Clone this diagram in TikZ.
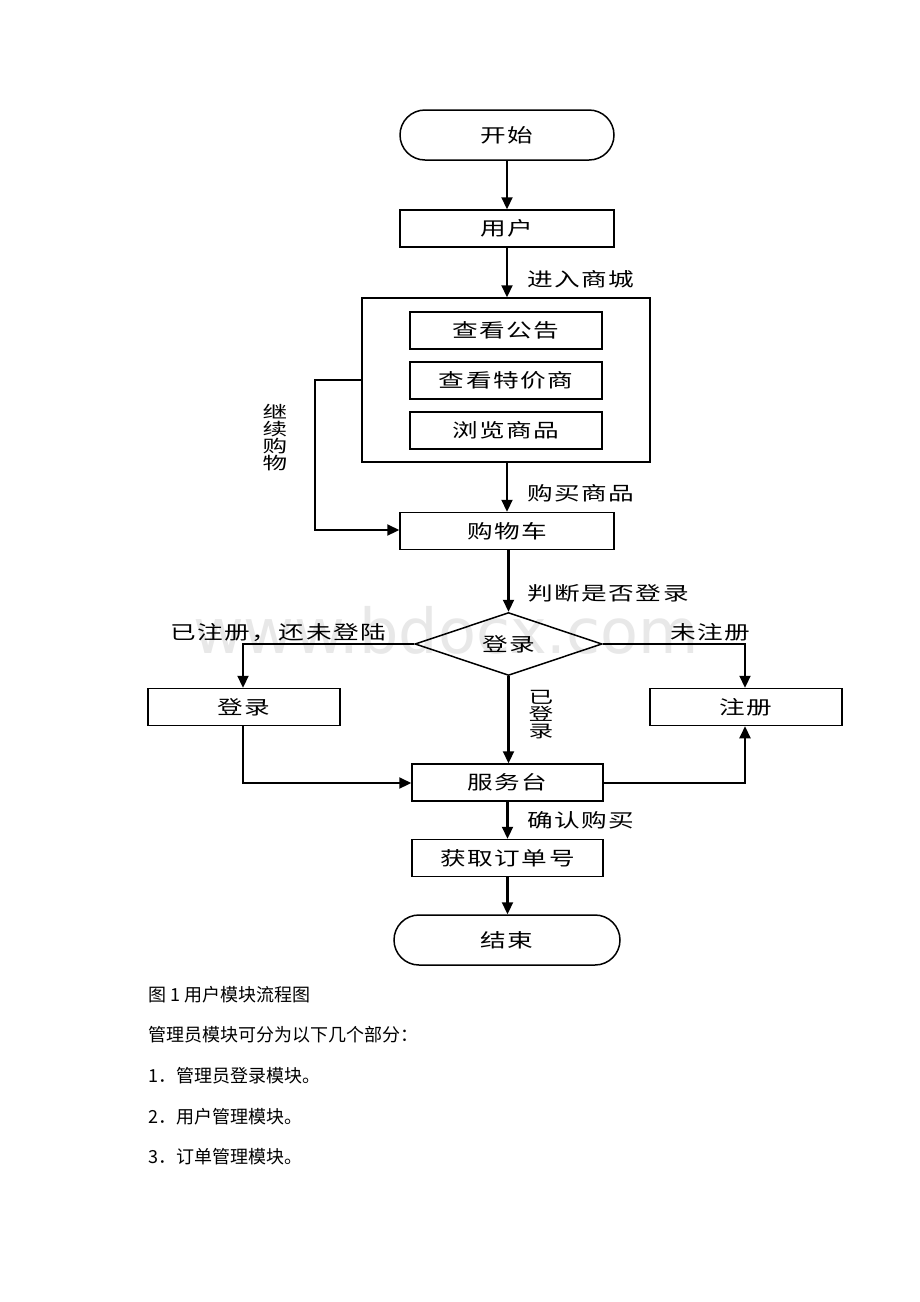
\documentclass[tikz,border=0pt]{standalone}
\usepackage{fontspec}
\setmainfont{Liberation Serif}
\newfontfamily\cjk{Noto Sans CJK SC}
\newfontfamily\cjksp[FakeStretch=1.35,LetterSpace=8]{Noto Sans CJK SC}
\newfontfamily\cjkv[FakeStretch=1.45]{Noto Sans CJK SC}
\usetikzlibrary{arrows.meta,shapes.geometric,positioning}
\begin{document}
\begin{tikzpicture}[x=1pt,y=-1pt,
  bfont/.style={font=\cjksp\fontsize{19}{19}\selectfont},
  box/.style={draw,line width=1.5pt,minimum width=214pt,minimum height=37pt,inner sep=0pt,bfont},
  ibox/.style={draw,line width=1.5pt,minimum width=192pt,minimum height=37pt,inner sep=0pt,bfont},
  term/.style={draw,line width=1.5pt,rounded corners=25pt,minimum height=50pt,inner sep=0pt,bfont},
  arr/.style={line width=2.2pt,-{Triangle[length=12pt,width=11pt]}},
  lbl/.style={bfont,inner sep=0pt},
  vlbl/.style={font=\cjkv\fontsize{17}{17}\selectfont,inner sep=0pt,align=center},
  captext/.style={font=\cjk\fontsize{18}{18}\selectfont,anchor=west,inner sep=0pt}]
\useasboundingbox[fill=white] (0,0) rectangle (920,1302);
% watermark
\node[font=\fontspec{DejaVu Sans}\fontsize{62}{62}\selectfont,text=black!9] (wm) at (446,630) {www.bdocx.com};
% nodes
\node[term,minimum width=214pt] (start) at (507,135) {开始};
\node[box] (user) at (507,228.5) {用户};
\node[draw,line width=1.5pt,minimum width=288pt,minimum height=164pt,inner sep=0pt] (big) at (506,380) {};
\node[ibox] (b1) at (506,330.5) {查看公告};
\node[ibox] (b2) at (506,380.5) {查看特价商};
\node[ibox] (b3) at (506,430.5) {浏览商品};
\node[box] (cart) at (507,531) {购物车};
\node[diamond,draw,line width=1.5pt,minimum width=187pt,minimum height=63pt,inner sep=0pt,aspect=3,bfont] (dec) at (508.5,644) {登录};
\node[box,minimum width=192pt] (login) at (244,707) {登录};
\node[box,minimum width=192pt] (reg) at (746,707) {注册};
\node[box,minimum width=191pt] (srv) at (507.5,782.5) {服务台};
\node[box,minimum width=191pt] (order) at (507.5,858) {获取订单号};
\node[term,minimum width=226pt] (end) at (507,940) {结束};
% connectors
\draw[arr] (start.south) -- (user.north);
\draw[arr] (user.south) -- (user.south |- big.north);
\draw[arr] (big.south -| cart.north) -- (cart.north);
\coordinate (lp1) at (315,380);
\coordinate (lp2) at (315,530);
\draw[arr] (big.west |- lp1) -- (lp1) -- (lp2) -- (cart.west |- lp2);
\draw[arr] (cart.south) -- (cart.south -| dec.north) -- (dec.north);
\coordinate (dl) at (243,644);
\coordinate (dr) at (745,644);
\draw[arr] (dec.west) -- (dl) -- (dl |- login.north);
\draw[arr] (dec.east) -- (dr) -- (dr |- reg.north);
\draw[arr] (dec.south) -- (dec.south |- srv.north);
\coordinate (sl) at (243,783);
\coordinate (sr) at (745,783);
\draw[arr] (dl |- login.south) -- (sl) -- (srv.west |- sl);
\draw[arr] (srv.east |- sr) -- (sr) -- (sr |- reg.south);
\draw[arr] (srv.south) -- (srv.south |- order.north);
\draw[arr] (order.south) -- (order.south |- end.north);
% labels
\node[lbl,anchor=west] (l1) at (527,279) {进入商城};
\node[lbl,anchor=west] (l2) at (527,493) {购买商品};
\node[lbl,anchor=west] (l3) at (527,593) {判断是否登录};
\node[lbl,anchor=west] (l4) at (170,632) {已注册，还未登陆};
\node[lbl,anchor=west] (l5) at (670,632) {未注册};
\node[lbl,anchor=west] (l6) at (527,820) {确认购买};
\node[vlbl] (l7) at (275,438) {继\\续\\购\\物};
\node[vlbl] (l8) at (541,715) {已\\登\\录};
% caption text
\node[captext] (c1) at (148,995) {图 1 用户模块流程图};
\node[captext] (c2) at (148,1035) {管理员模块可分为以下几个部分：};
\node[captext] (c3) at (148,1076) {1．管理员登录模块。};
\node[captext] (c4) at (148,1117) {2．用户管理模块。};
\node[captext] (c5) at (148,1157) {3．订单管理模块。};
\end{tikzpicture}
\end{document}
